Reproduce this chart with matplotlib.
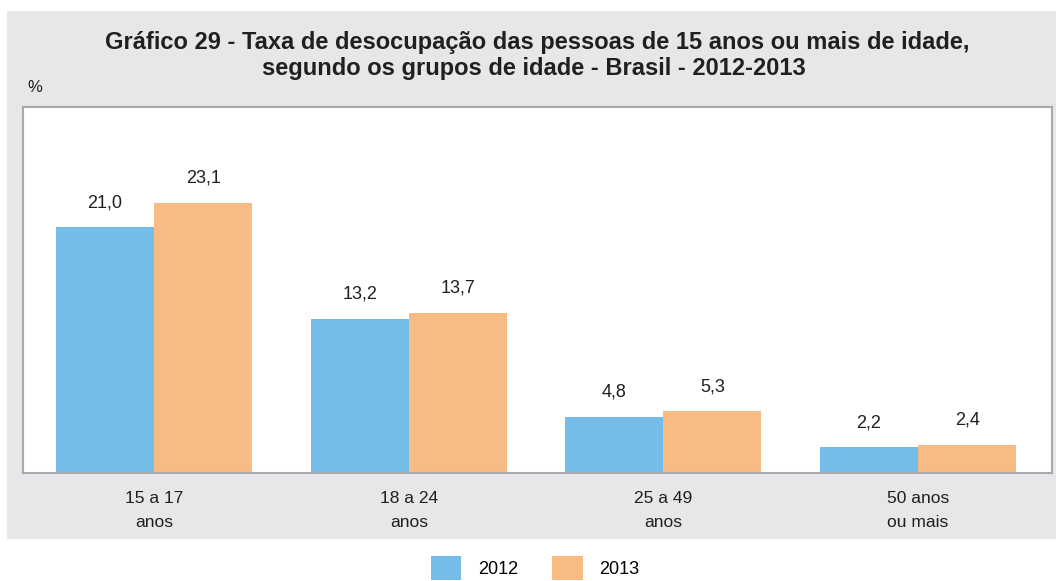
import numpy as np
import matplotlib
matplotlib.use('Agg')
import matplotlib.pyplot as plt
from matplotlib.patches import Rectangle

plt.rcParams['font.family'] = ['Liberation Sans', 'DejaVu Sans']

grupos = ['15 a 17\nanos', '18 a 24\nanos', '25 a 49\nanos', '50 anos\nou mais']
taxa_2012 = [21.0, 13.2, 4.8, 2.2]
taxa_2013 = [23.1, 13.7, 5.3, 2.4]
anos = ['2012', '2013']

cor_2012 = '#74bde8'
cor_2013 = '#f9bb84'
cinza = '#e6e7e8'

W, H = 1056, 581
fig = plt.figure(figsize=(W / 100, H / 100), dpi=100, facecolor='white')

# painel cinza de fundo
fig.patches.append(Rectangle((7 / W, 1 - 539 / H), (W - 7) / W, (539 - 11) / H,
                             transform=fig.transFigure, facecolor=cinza,
                             edgecolor='none', zorder=-5))

ax = fig.add_axes([23 / W, 1 - 473 / H, 1029 / W, 366 / H])
ax.set_zorder(2)
ax.set_facecolor('white')

x = np.arange(len(grupos))
w = 0.385
b1 = ax.bar(x - w / 2, taxa_2012, w, color=cor_2012, label=anos[0])
b2 = ax.bar(x + w / 2, taxa_2013, w, color=cor_2013, label=anos[1])

for bars, vals in ((b1, taxa_2012), (b2, taxa_2013)):
    for r, v in zip(bars, vals):
        ax.annotate(f'{v:.1f}'.replace('.', ','),
                    (r.get_x() + r.get_width() / 2, r.get_height()),
                    xytext=(0, 11.5), textcoords='offset points',
                    ha='center', va='bottom', fontsize=13, color='#231f20')

ax.set_xlim(-0.515, 3.526)
ax.set_ylim(0, 31.3)
ax.set_yticks([])
ax.set_xticks(x)
ax.set_xticklabels(grupos, fontsize=12.5, color='#231f20', linespacing=1.75)
ax.tick_params(axis='x', length=0, pad=13)
for s in ax.spines.values():
    s.set_color('#a7a9ac')
    s.set_linewidth(1.5)

fig.text(537 / W, 1 - 42 / H, 'Gráfico 29 - Taxa de desocupação das pessoas de 15 anos ou mais de idade,',
         ha='center', va='center', fontsize=17, fontweight='bold', color='#231f20')
fig.text(534 / W, 1 - 68 / H, 'segundo os grupos de idade - Brasil - 2012-2013',
         ha='center', va='center', fontsize=17, fontweight='bold', color='#231f20')
fig.text(27 / W, 1 - 88 / H, '%', ha='left', va='center', fontsize=12, color='#231f20')

fig.legend(handles=[b1, b2], labels=anos, loc='center', bbox_to_anchor=(535 / W, 1 - 568 / H),
           ncol=2, frameon=False, fontsize=13, handlelength=1.7, handleheight=1.6,
           columnspacing=1.9, handletextpad=0.9)

fig.savefig('out.png', dpi=100)
